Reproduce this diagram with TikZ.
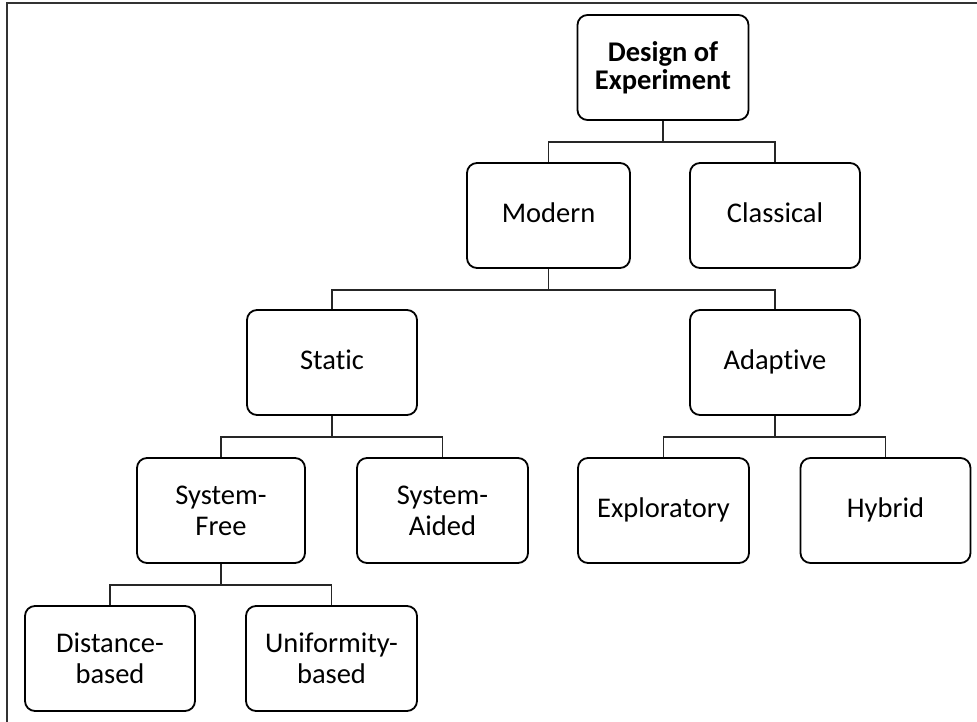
\documentclass[tikz,border=0pt]{standalone}
\usepackage{fontspec}
\setmainfont{Carlito}[Ligatures=NoCommon]
\begin{document}
\begin{tikzpicture}[x=1pt,y=-1pt,
  box/.style={draw, rounded corners=10pt, line width=1.8pt, minimum width=168pt,
    minimum height=105pt, align=center, inner sep=0pt,
    font=\fontsize{28.5}{31}\selectfont},
  oneline/.style={text height=20pt, text depth=6pt},
  conn/.style={line width=1.3pt, draw=black!85},
  frame/.style={line width=2pt, draw=black!80}]
\useasboundingbox (0,0) rectangle (977,722);
\draw[frame] (7,722) -- (7,3) -- (977,3);

\node[box, minimum width=171pt, font=\bfseries\fontsize{28.5}{28}\selectfont] (doe) at (663,67.5) {Design of\\Experiment};
\node[box, oneline, minimum width=163pt] (modern) at (548.5,215.5) {Modern};
\node[box, oneline, minimum width=170pt] (classical) at (775,215.5) {Classical};
\node[box, oneline, minimum width=170pt] (static) at (332,362.5) {Static};
\node[box, oneline, minimum width=170pt] (adaptive) at (775,362.5) {Adaptive};
\node[box] (sfree) at (221,510.5) {System-\\Free};
\node[box, minimum width=171pt] (said) at (442.5,510.5) {System-\\Aided};
\node[box, oneline, minimum width=171pt] (explo) at (663.5,510.5) {Exploratory};
\node[box, oneline, minimum width=170pt] (hybrid) at (885.5,510.5) {Hybrid};
\node[box, minimum width=170pt] (dist) at (110,658.5) {Distance-\\based};
\node[box, minimum width=171pt] (unif) at (331.5,658.5) {Uniformity-\\based};

\coordinate (j1) at (663,142);
\coordinate (j2) at (548.5,290);
\coordinate (j3) at (332,437);
\coordinate (j4) at (775,437);
\coordinate (j5) at (221,585);

\draw[conn] (doe.south) -- (j1);
\draw[conn] (modern.north) |- (j1) -| (classical.north);
\draw[conn] (modern.south) -- (j2);
\draw[conn] (static.north) |- (j2) -| (adaptive.north);
\draw[conn] (static.south) -- (j3);
\draw[conn] (sfree.north) |- (j3) -| (said.north);
\draw[conn] (adaptive.south) -- (j4);
\draw[conn] (explo.north) |- (j4) -| (hybrid.north);
\draw[conn] (sfree.south) -- (j5);
\draw[conn] (dist.north) |- (j5) -| (unif.north);
\end{tikzpicture}
\end{document}
